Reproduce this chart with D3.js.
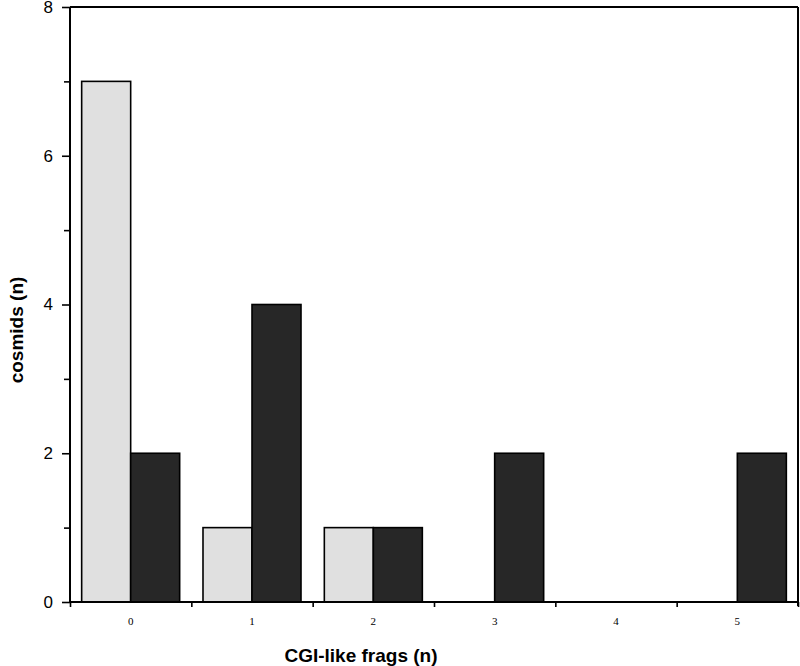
<!DOCTYPE html>
<html>
<head>
<meta charset="utf-8">
<script src="https://cdn.jsdelivr.net/npm/d3@7"></script>
<style>
  html, body { margin: 0; padding: 0; background: #fff; }
  svg { display: block; }
</style>
</head>
<body>
<svg id="chart" width="800" height="666"></svg>
<script>
const categories = ["0", "1", "2", "3", "4", "5"];
const seriesNames = ["light", "dark"];
const lightValues = [7, 1, 1, 0, 0, 0];
const darkValues = [2, 4, 1, 2, 0, 2];
const yMajorTicks = [0, 2, 4, 6, 8];
const yMinorTicks = [1, 3, 5, 7];
const xTitle = "CGI-like frags (n)";
const yTitle = "cosmids (n)";
const seriesColors = ["#e0e0e0", "#272727"];

(function () {
const svg = d3.select("#chart");
const mLeft = 70, mRight = 798, mTop = 7, mBottom = 602;

const x = d3.scaleBand().domain(categories).range([mLeft, mRight]).padding(0);
const xSub = d3.scaleBand().domain(seriesNames).range([0, x.bandwidth()])
  .paddingInner(0).paddingOuter(0.238);
const y = d3.scaleLinear().domain([0, 8]).range([mBottom, mTop]);

const rows = categories.map((c, i) => ({ c, values: [
  { s: "light", v: lightValues[i] }, { s: "dark", v: darkValues[i] }] }));
const color = d3.scaleOrdinal().domain(seriesNames).range(seriesColors);

// bars
const g = svg.append("g");
g.selectAll("g.cat").data(rows).join("g")
  .attr("class", "cat")
  .attr("transform", d => `translate(${x(d.c)},0)`)
  .selectAll("rect").data(d => d.values.filter(e => e.v > 0)).join("rect")
  .attr("x", d => xSub(d.s))
  .attr("width", xSub.bandwidth())
  .attr("y", d => y(d.v))
  .attr("height", d => y(0) - y(d.v))
  .attr("fill", d => color(d.s))
  .attr("stroke", "#000")
  .attr("stroke-width", 1.6);

// frame top and right
svg.append("line").attr("x1", mLeft).attr("x2", mRight).attr("y1", y(8)).attr("y2", y(8))
  .attr("stroke", "#000").attr("stroke-width", 2);
svg.append("line").attr("x1", mRight).attr("x2", mRight).attr("y1", y(8)).attr("y2", mBottom + 4)
  .attr("stroke", "#000").attr("stroke-width", 2);

// y axis
const yAxisMajor = svg.append("g").attr("transform", `translate(${mLeft},0)`)
  .call(d3.axisLeft(y).tickValues(yMajorTicks).tickSize(8).tickPadding(9).tickFormat(d3.format("d")));
const yAxisMinor = svg.append("g").attr("transform", `translate(${mLeft},0)`)
  .call(d3.axisLeft(y).tickValues(yMinorTicks).tickSize(6).tickFormat(""));
[yAxisMajor, yAxisMinor].forEach(a => {
  a.select(".domain").attr("stroke-width", 2).attr("d", `M0,${y(8)}V${mBottom + 1}`);
  a.selectAll(".tick line").attr("stroke-width", 1.6);
});
yAxisMajor.selectAll("text").attr("font-family", "Liberation Sans, Arial, sans-serif")
  .attr("font-size", 17).attr("fill", "#000");

// x axis boundary ticks
const xb = d3.scaleLinear().domain([0, categories.length]).range([mLeft, mRight]);
const xAxisTicks = svg.append("g").attr("transform", `translate(0,${mBottom})`)
  .call(d3.axisBottom(xb).tickValues(d3.range(0, categories.length + 1)).tickSize(5).tickFormat(""));
xAxisTicks.select(".domain").attr("stroke-width", 2).attr("d", `M${mLeft},0H${mRight}`);
xAxisTicks.selectAll(".tick line").attr("stroke-width", 1.6);

const xAxisLabels = svg.append("g").attr("transform", `translate(0,${mBottom})`)
  .call(d3.axisBottom(x).tickSize(0).tickPadding(15));
xAxisLabels.select(".domain").remove();
xAxisLabels.selectAll("text").attr("font-family", "Liberation Serif, Times New Roman, serif")
  .attr("font-size", 11).attr("fill", "#000");

// titles
svg.append("text").attr("x", 361).attr("y", 662).attr("text-anchor", "middle")
  .attr("font-family", "Liberation Sans, Arial, sans-serif").attr("font-weight", "bold")
  .attr("font-size", 19).text(xTitle);
svg.append("text").attr("transform", "translate(23,330) rotate(-90)").attr("text-anchor", "middle")
  .attr("font-family", "Liberation Sans, Arial, sans-serif").attr("font-weight", "bold")
  .attr("font-size", 19).text(yTitle);
})();
</script>
</body>
</html>
